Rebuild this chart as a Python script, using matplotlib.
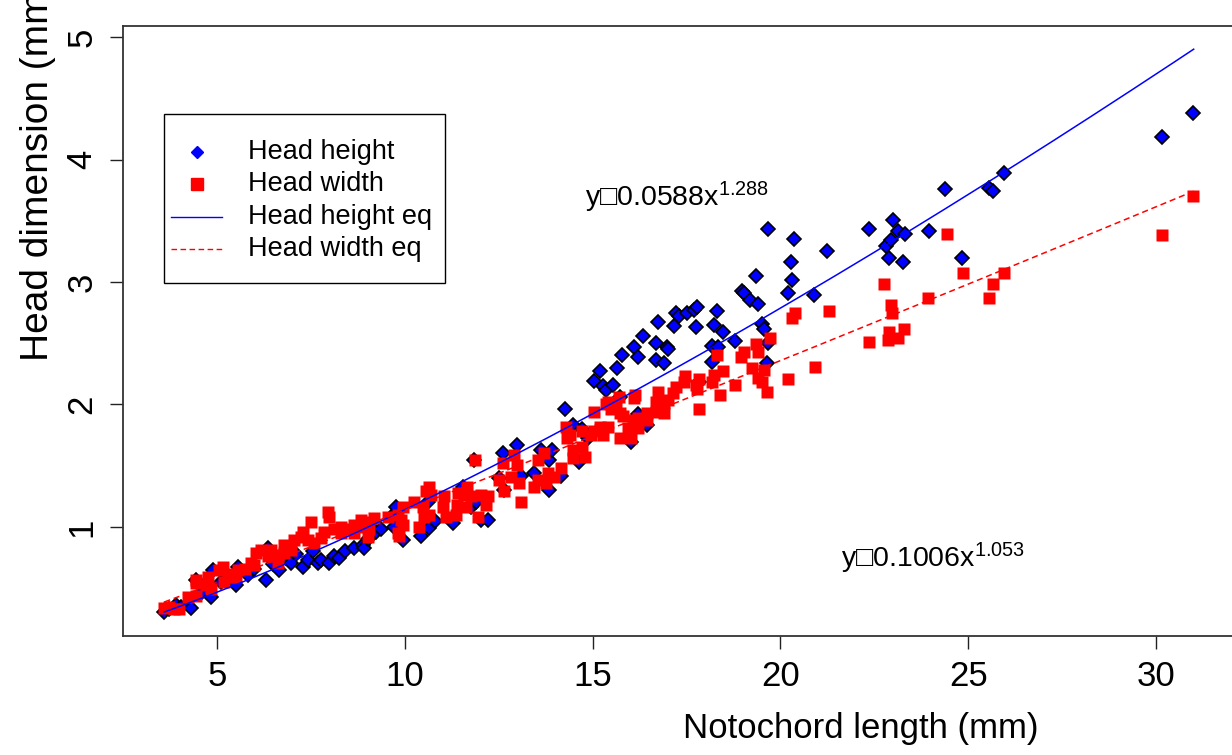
import numpy as np
import matplotlib
matplotlib.use("Agg")
import matplotlib.pyplot as plt
from matplotlib.lines import Line2D
from matplotlib.patches import Rectangle

plt.rcParams['font.family'] = ['Liberation Sans', 'DejaVu Sans']
plt.rcParams['mathtext.fontset'] = 'custom'
plt.rcParams['mathtext.rm'] = 'Liberation Sans'

# head height (blue diamonds)
height_x = [3.59, 3.72, 3.91, 4.05, 4.31, 4.44, 4.6, 4.84, 4.89, 5.11, 5.3, 5.51, 5.56, 5.82,
            6.0, 6.30, 6.36, 6.5, 6.62, 6.65, 6.84, 6.97, 7.1, 7.29, 7.42, 7.55, 7.69, 7.77,
            7.98, 8.11, 8.24, 8.4, 8.64, 8.88, 8.91, 9.02, 9.23, 9.36, 9.71, 9.71, 9.76, 9.95,
            10.43, 10.61, 10.64, 10.8, 11.28, 11.54, 11.76, 11.9, 11.84, 12.02, 12.21, 12.5,
            12.61, 12.63, 12.98, 13.09, 13.43, 13.62, 13.83, 13.83, 13.91, 14.15, 14.26, 14.47,
            14.65, 14.73, 14.87, 15.03, 15.19, 15.29, 15.37, 15.53, 15.72, 15.77, 15.66, 16.01,
            16.09, 16.2, 16.2, 16.33, 16.44, 16.7, 16.7, 16.73, 16.89, 16.97, 17.02, 17.18,
            17.23, 17.29, 17.5, 17.71, 17.74, 17.79, 17.82, 18.17, 18.19, 18.22, 18.3, 18.35,
            18.48, 18.78, 18.99, 19.04, 19.2, 19.36, 19.39, 19.52, 19.55, 19.65, 19.68, 19.68,
            20.19, 20.32, 20.37, 20.29, 20.9, 21.25, 22.37, 22.82, 22.9, 22.93, 23.0, 23.14,
            23.27, 23.32, 23.96, 24.39, 24.84, 25.56, 25.66, 25.96, 30.16, 30.98]
height_y = [0.31, 0.33, 0.36, 0.35, 0.34, 0.57, 0.47, 0.43, 0.65, 0.55, 0.6, 0.53, 0.67, 0.61,
            0.66, 0.57, 0.83, 0.7, 0.75, 0.65, 0.75, 0.71, 0.78, 0.67, 0.73, 0.8, 0.71, 0.73,
            0.71, 0.76, 0.75, 0.8, 0.83, 0.85, 0.83, 0.9, 0.96, 0.98, 1.00, 1.11, 1.16, 0.89,
            0.93, 1.20, 0.99, 1.05, 1.03, 1.33, 1.16, 1.2, 1.55, 1.06, 1.06, 1.40,
            1.60, 1.30, 1.67, 1.42, 1.44, 1.63, 1.55, 1.30, 1.63, 1.42, 1.96, 1.83,
            1.53, 1.80, 1.73, 2.19, 2.27, 2.15, 2.12, 2.16, 2.06, 2.40, 2.30, 1.69,
            2.47, 2.39, 1.92, 2.56, 1.83, 2.50, 2.36, 2.67, 2.34, 2.47, 2.45, 2.64,
            2.75, 2.72, 2.75, 2.77, 2.63, 2.80, 2.18, 2.48, 2.35, 2.65, 2.76, 2.47,
            2.59, 2.52, 2.93, 2.91, 2.85, 3.05, 2.82, 2.66, 2.62, 2.34, 2.50, 3.43,
            2.91, 3.02, 3.35, 3.16, 2.89, 3.25, 3.43, 3.29, 3.20, 3.34, 3.51, 3.42,
            3.16, 3.39, 3.42, 3.76, 3.20, 3.77, 3.74, 3.89, 4.18, 4.38]

# head width (red squares)
width_x = [3.59, 3.72, 3.85, 3.99, 4.23, 4.44, 4.44, 4.44, 4.71, 4.76, 4.84, 5.05, 5.16, 5.19,
           5.29, 5.37, 5.51, 5.56, 5.75, 5.9, 5.98, 6.04, 6.17, 6.36, 6.44, 6.62, 6.62, 6.78,
           6.78, 6.97, 7.05, 7.23, 7.29, 7.42, 7.5, 7.58, 7.77, 7.85, 7.95, 7.98, 8.11, 8.3,
           8.3, 8.48, 8.64, 8.64, 8.83, 8.88, 9.02, 9.02, 9.04, 9.18, 9.55, 9.81, 9.81, 9.84,
           9.89, 9.95, 9.95, 10.24, 10.37, 10.48, 10.51, 10.56, 10.64, 10.64, 10.69, 11.01,
           11.04, 11.09, 11.36, 11.38, 11.41, 11.57, 11.62, 11.65, 11.76, 11.86, 11.94, 12.02,
           12.15, 12.21, 12.5, 12.61, 12.63, 12.82, 12.9, 12.98, 13.03, 13.09, 13.43, 13.54,
           13.56, 13.7, 13.75, 13.8, 13.96, 14.15, 14.28, 14.33, 14.41, 14.47, 14.49, 14.73,
           14.73, 14.81, 14.95, 15.03, 15.03, 15.19, 15.21, 15.29, 15.37, 15.4, 15.4, 15.48,
           15.61, 15.69, 15.72, 15.74, 15.8, 15.93, 16.01, 16.09, 16.09, 16.14, 16.2, 16.22,
           16.44, 16.44, 16.68, 16.68, 16.73, 16.89, 16.91, 17.02, 17.15, 17.21, 17.42, 17.47,
           17.74, 17.79, 17.82, 17.82, 18.19, 18.22, 18.3, 18.4, 18.48, 18.8, 18.94, 19.02,
           19.23, 19.34, 19.39, 19.41, 19.52, 19.55, 19.65, 19.71, 20.19, 20.32, 20.4, 20.93,
           21.28, 22.37, 22.77, 22.87, 22.9, 22.95, 22.98, 23.14, 23.3, 23.94, 24.44, 24.87,
           25.56, 25.66, 25.96, 30.16, 30.98]
width_y = [0.34, 0.35, 0.33, 0.33, 0.43, 0.44, 0.54, 0.57, 0.53, 0.59, 0.49, 0.65, 0.67, 0.55,
           0.62, 0.59, 0.59, 0.65, 0.66, 0.71, 0.69, 0.79, 0.81, 0.76, 0.81, 0.77, 0.71, 0.79,
           0.85, 0.81, 0.89, 0.92, 0.96, 0.89, 1.04, 0.87, 0.91, 0.96, 1.12, 1.08, 0.98, 0.95,
           1.0, 0.98, 1.02, 0.95, 1.06, 1.0, 1.04, 0.92, 0.98, 1.07, 1.08, 1.10, 0.95, 0.93,
           1.06, 1.02, 1.16, 1.20, 1.00, 1.16, 1.08, 1.29, 1.33, 1.10, 1.26, 1.16,
           1.25, 1.08, 1.10, 1.18, 1.28, 1.26, 1.16, 1.33, 1.25, 1.55, 1.08, 1.26,
           1.18, 1.25, 1.38, 1.52, 1.29, 1.41, 1.59, 1.51, 1.36, 1.20, 1.33, 1.38,
           1.55, 1.60, 1.36, 1.44, 1.41, 1.48, 1.82, 1.73, 1.75, 1.63, 1.56, 1.65,
           1.78, 1.57, 1.75, 1.78, 1.94, 1.82, 1.79, 1.75, 2.00, 1.82, 2.02, 1.96,
           1.98, 2.06, 1.73, 1.93, 1.91, 1.81, 1.73, 1.87, 2.05, 2.08, 1.81, 1.89,
           1.93, 1.87, 2.02, 1.94, 2.10, 2.01, 1.93, 2.04, 2.09, 2.14, 2.18, 2.23,
           2.16, 2.13, 2.21, 1.96, 2.18, 2.24, 2.40, 2.08, 2.27, 2.16, 2.39, 2.43,
           2.30, 2.49, 2.43, 2.22, 2.18, 2.28, 2.10, 2.54, 2.21, 2.71, 2.75, 2.31,
           2.76, 2.51, 2.98, 2.53, 2.59, 2.81, 2.75, 2.54, 2.62, 2.87, 3.39, 3.07,
           2.87, 2.98, 3.07, 3.38, 3.70]

# power fits y = a * x^b
height_fit = (0.0588, 1.288)
width_fit = (0.1006, 1.053)
fit_range = (3.6, 31.0)

fig = plt.figure(figsize=(12.32, 7.55), dpi=100)
ax = fig.add_axes([123 / 1232, 119 / 755, 1112 / 1232, 610 / 755])

ax.plot(height_x, height_y, linestyle='none', marker='D', markersize=7.2,
        markerfacecolor='#0000ff', markeredgecolor='black', markeredgewidth=1.2, zorder=2)
ax.plot(width_x, width_y, linestyle='none', marker='s', markersize=8.6,
        markerfacecolor='#ff0000', markeredgecolor='none', zorder=3)

xs = np.linspace(fit_range[0], fit_range[1], 200)
ax.plot(xs, height_fit[0] * xs ** height_fit[1], color='#0000ff', lw=1.1, zorder=4)
ax.plot(xs, width_fit[0] * xs ** width_fit[1], color='#ff0000', lw=1.1,
        dashes=(4, 2.5), zorder=4)

ax.set_xlim(2.5, 32.1)
ax.set_ylim(0.11, 5.09)
ax.set_xticks([5, 10, 15, 20, 25, 30])
ax.set_yticks([1, 2, 3, 4, 5])
ax.tick_params(axis='both', direction='out', length=9.5, width=1.0, labelsize=25,
               color='#222222')
ax.tick_params(axis='x', pad=8)
ax.tick_params(axis='y', labelrotation=90, pad=8)
for lab in ax.get_yticklabels():
    lab.set_va('center')
for sp in ax.spines.values():
    sp.set_color('#333333')
    sp.set_linewidth(1.3)

ax.set_xlabel('Notochord length (mm)', fontsize=25)
ax.xaxis.set_label_coords(0.663, -0.125)
ax.set_ylabel('Head dimension (mm)', fontsize=28)
ax.yaxis.set_label_coords(-0.060, 0.765)

ax.text(14.81, 3.62, 'y\u25a10.0588x$\\mathregular{^{1.288}}$', fontsize=20.5,
        ha='left', va='baseline')
ax.text(21.62, 0.67, 'y\u25a10.1006x$\\mathregular{^{1.053}}$', fontsize=20.5,
        ha='left', va='baseline')

# legend drawn by hand (R-style box)
tr = ax.transAxes
ax.add_patch(Rectangle((0.0369, 0.5787), 0.2527, 0.277, transform=tr, fill=False,
                       edgecolor='black', lw=1.0, zorder=5))
rows = [0.7934, 0.7410, 0.6869, 0.6344]
labels = ['Head height', 'Head width', 'Head height eq', 'Head width eq']
hx = (197 - 123) / 1112
ax.add_line(Line2D([hx], [rows[0]], transform=tr, marker='D', markersize=6.0,
                   color='#0000ff', linestyle='none', zorder=6))
ax.add_line(Line2D([hx], [rows[1]], transform=tr, marker='s', markersize=9.0,
                   color='#ff0000', linestyle='none', zorder=6))
lx0, lx1 = (171 - 123) / 1112, (222 - 123) / 1112
ax.add_line(Line2D([lx0, lx1], [rows[2], rows[2]], transform=tr, color='#0000ff',
                   lw=1.0, zorder=6))
ax.add_line(Line2D([lx0, lx1], [rows[3], rows[3]], transform=tr, color='#ff0000',
                   lw=1.0, dashes=(4, 2.5), zorder=6))
for y, lab in zip(rows, labels):
    ax.text((248 - 123) / 1112, y, lab, transform=tr, fontsize=19.5, ha='left',
            va='center', zorder=6)

fig.savefig('out.png', dpi=100)
